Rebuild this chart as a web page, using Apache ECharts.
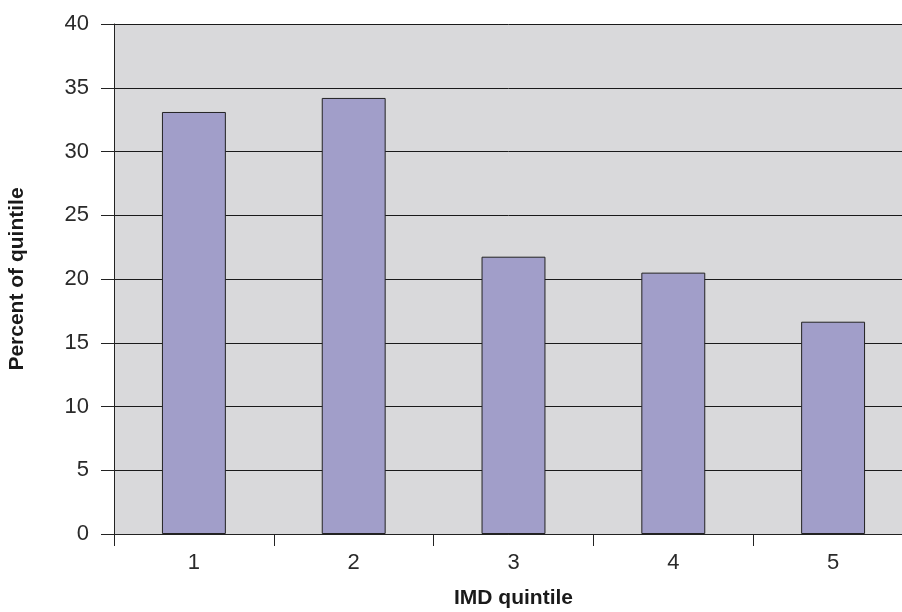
<!DOCTYPE html>
<html>
<head>
<meta charset="utf-8">
<script src="https://cdn.jsdelivr.net/npm/echarts@6/dist/echarts.min.js"></script>
<style>
  html, body { margin: 0; padding: 0; background: #ffffff; }
  #chart { width: 902px; height: 612px; }
</style>
</head>
<body>
<div id="chart"></div>
<script>
// IMD quintiles and the share (%) of each quintile
var quintiles = ['1', '2', '3', '4', '5'];
var percentOfQuintile = [33.1, 34.2, 21.75, 20.5, 16.65];
var yTicks = { min: 0, max: 40, interval: 5 };

var chart = echarts.init(document.getElementById('chart'));
var font = 'Liberation Sans, Arial, Helvetica, sans-serif';

chart.setOption({
  animation: false,
  grid: {
    left: 114,
    right: -11,
    top: 24,
    bottom: 78,
    outerBoundsMode: 'none',
    containLabel: false,
    show: true,
    backgroundColor: '#d9d9db',
    borderWidth: 0
  },
  xAxis: {
    type: 'category',
    data: quintiles,
    name: 'IMD quintile',
    nameLocation: 'middle',
    nameGap: 54,
    nameTextStyle: { fontFamily: font, fontSize: 21, fontWeight: 'bold', color: '#1a1a1a' },
    axisLine: { lineStyle: { color: '#222', width: 1 } },
    axisTick: { show: true, length: 12, lineStyle: { color: '#222' } },
    axisLabel: { fontFamily: font, fontSize: 22, color: '#2a2a2a', margin: 18 },
    splitLine: { show: false }
  },
  yAxis: {
    type: 'value',
    min: yTicks.min,
    max: yTicks.max,
    interval: yTicks.interval,
    name: 'Percent of quintile',
    nameLocation: 'middle',
    nameGap: 86,
    nameTextStyle: { fontFamily: font, fontSize: 21, fontWeight: 'bold', color: '#1a1a1a' },
    axisLine: { show: true, lineStyle: { color: '#222', width: 1 } },
    axisTick: { show: true, inside: false, length: 13, lineStyle: { color: '#222' } },
    axisLabel: { fontFamily: font, fontSize: 22, color: '#2a2a2a', margin: 25 },
    splitLine: { show: true, lineStyle: { color: '#1a1a1a', width: 1 } }
  },
  series: [{
    type: 'bar',
    data: percentOfQuintile,
    barWidth: '40%',
    itemStyle: { color: '#a19ec9', borderColor: '#222', borderWidth: 1 }
  }]
});
</script>
</body>
</html>
